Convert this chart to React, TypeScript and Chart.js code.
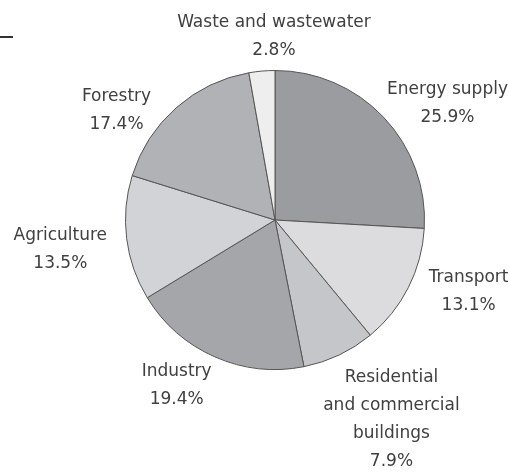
import React, { useEffect, useRef } from "react";
import { Chart, registerables } from "chart.js";

Chart.register(...registerables);

const categories = [
  "Energy supply",
  "Transport",
  "Residential and commercial buildings",
  "Industry",
  "Agriculture",
  "Forestry",
  "Waste and wastewater",
];
const values = [25.9, 13.1, 7.9, 19.4, 13.5, 17.4, 2.8];
const labelLines = [
  ["Energy supply"],
  ["Transport"],
  ["Residential", "and commercial", "buildings"],
  ["Industry"],
  ["Agriculture"],
  ["Forestry"],
  ["Waste and wastewater"],
];
const sliceColors = ["#9b9ca0", "#dcdcde", "#c5c6c9", "#a5a6aa", "#d2d3d6", "#b1b2b6", "#eeeeee"];

// label block centres, in units of the pie radius, relative to the pie centre
const labelPlacement = [
  [1.154, -0.779],
  [1.295, 0.477],
  [0.779, 1.336],
  [-0.658, 1.107],
  [-1.436, 0.195],
  [-1.06, -0.732],
  [-0.007, -1.23],
];

const FONT = '17px "DejaVu Sans"';
const LINE_H = 28;

const labelPlugin = {
  id: "outerLabels",
  afterDraw(chart: any) {
    const ctx = chart.ctx;
    const meta = chart.getDatasetMeta(0);
    ctx.save();
    ctx.font = FONT;
    ctx.fillStyle = "#404040";
    ctx.textAlign = "center";
    ctx.textBaseline = "middle";
    meta.data.forEach((arc: any, i: number) => {
      const { x, y, outerRadius } = arc.getProps(["x", "y", "outerRadius"], true);
      const lines = [...labelLines[i], `${values[i]}%`];
      const cx = x + labelPlacement[i][0] * outerRadius;
      const cy = y + labelPlacement[i][1] * outerRadius;
      const top = cy - ((lines.length - 1) * LINE_H) / 2;
      lines.forEach((t, j) => ctx.fillText(t, cx, top + j * LINE_H));
    });
    ctx.restore();
  },
};

export default function App() {
  const ref = useRef<HTMLCanvasElement>(null);
  useEffect(() => {
    if (!ref.current) return;
    const chart = new Chart(ref.current, {
      type: "pie",
      data: {
        labels: categories,
        datasets: [
          {
            data: values,
            backgroundColor: sliceColors,
            borderColor: "#555555",
            borderWidth: 1,
            hoverOffset: 0,
          },
        ],
      },
      options: {
        animation: false,
        responsive: false,
        events: [],
        layout: { padding: { left: 125, right: 84, top: 70, bottom: 104 } },
        plugins: { legend: { display: false }, tooltip: { enabled: false } },
      },
      plugins: [labelPlugin],
    });
    return () => chart.destroy();
  }, []);
  return (
    <div style={{ position: "fixed", left: 0, top: 0, width: 509, height: 474, background: "#fff" }}>
      <canvas ref={ref} width={509} height={474} style={{ width: 509, height: 474, display: "block" }} />
      <div style={{ position: "absolute", left: 0, top: 36, width: 13, height: 2, background: "#333" }} />
    </div>
  );
}
